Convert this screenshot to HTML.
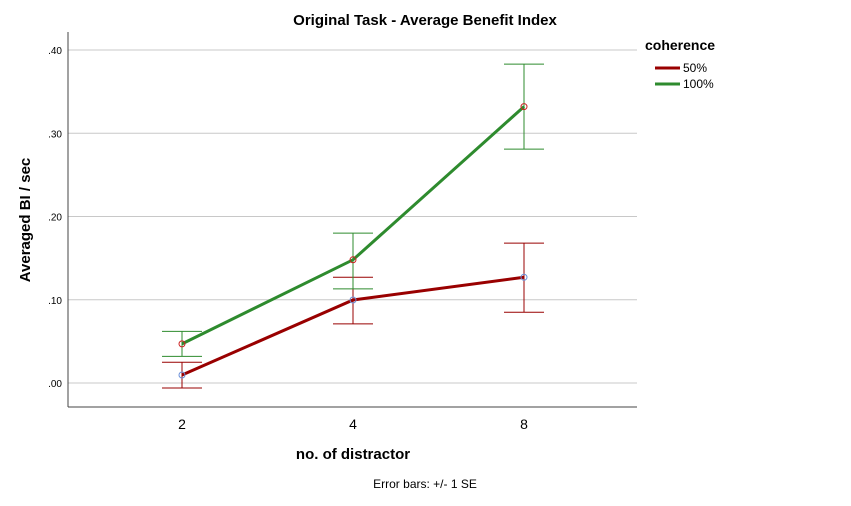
<!DOCTYPE html>
<html><head><meta charset="utf-8"><style>
body{margin:0;background:#fff;width:851px;height:501px;overflow:hidden}
svg text{font-family:"Liberation Sans",sans-serif}
</style></head><body>
<svg id="chart" width="851" height="501">
<text x="425" y="25" text-anchor="middle" font-size="15" font-weight="bold">Original Task - Average Benefit Index</text>
<g id="grid"></g>
<g id="series"></g>
<line x1="68" y1="32" x2="68" y2="407" stroke="#444"/>
<line x1="68" y1="407" x2="637" y2="407" stroke="#444"/>
<text transform="translate(30,220) rotate(-90)" text-anchor="middle" font-size="15" font-weight="bold">Averaged BI / sec</text>
<text x="353" y="459" text-anchor="middle" font-size="15" font-weight="bold">no. of distractor</text>
<text x="425" y="488" text-anchor="middle" font-size="12">Error bars: +/- 1 SE</text>
<g>
<text x="645" y="50" font-size="14" font-weight="bold">coherence</text>
<line x1="655" y1="68" x2="680" y2="68" stroke="#990000" stroke-width="3"/>
<text x="683" y="72" font-size="12">50%</text>
<line x1="655" y1="84" x2="680" y2="84" stroke="#2e8b2e" stroke-width="3"/>
<text x="683" y="88" font-size="12">100%</text>
</g>
</svg>
<script>
const categories=["2","4","8"];
const yTicks=[0,0.1,0.2,0.3,0.4];
const yTickLabels=[".00",".10",".20",".30",".40"];
const mean50=[0.0096,0.0997,0.127];
const upper50=[0.025,0.127,0.168];
const lower50=[-0.006,0.071,0.085];
const mean100=[0.047,0.148,0.332];
const upper100=[0.062,0.180,0.383];
const lower100=[0.032,0.113,0.281];
const NS="http://www.w3.org/2000/svg";
const xS=i=>182+i*171;
const yS=v=>383-v*832.5;
function mk(t,a,p){const e=document.createElementNS(NS,t);for(const k in a)e.setAttribute(k,a[k]);p.appendChild(e);return e;}
const grid=document.getElementById('grid');
yTicks.forEach((v,i)=>{
 const l=mk('line',{x1:68,x2:637,y1:yS(v),y2:yS(v),stroke:'#c8c8c8'},grid);
 
 
 const t=mk('text',{x:62,y:yS(v)+4,'text-anchor':'end','font-size':10},grid);
 t.textContent=yTickLabels[i];
 
 
});
categories.forEach((c,i)=>{
 const t=mk('text',{x:xS(i),y:429,'text-anchor':'middle','font-size':14},grid);
 t.textContent=c;
 
 
});
const ser=document.getElementById('series');
function drawSeries(m,u,lo,col,mcol,name){
 m.forEach((v,i)=>{
  const g=mk('g',{},ser);
  
  
  mk('line',{x1:xS(i),x2:xS(i),y1:yS(u[i]),y2:yS(lo[i]),stroke:col,'stroke-width':1},g);
  mk('line',{x1:xS(i)-20,x2:xS(i)+20,y1:yS(u[i]),y2:yS(u[i]),stroke:col,'stroke-width':1},g);
  mk('line',{x1:xS(i)-20,x2:xS(i)+20,y1:yS(lo[i]),y2:yS(lo[i]),stroke:col,'stroke-width':1},g);
 });
 const p=mk('polyline',{points:m.map((v,i)=>xS(i)+','+yS(v)).join(' '),fill:'none',stroke:col,'stroke-width':3},ser);
 
 
 m.forEach((v,i)=>{
  const c=mk('circle',{cx:xS(i),cy:yS(v),r:3,fill:'none',stroke:mcol,'stroke-width':1},ser);
  
  
 });
}
drawSeries(mean50,upper50,lower50,'#990000','#6a8fd8','50');
drawSeries(mean100,upper100,lower100,'#2e8b2e','#cc2222','100');
</script>
</body></html>
